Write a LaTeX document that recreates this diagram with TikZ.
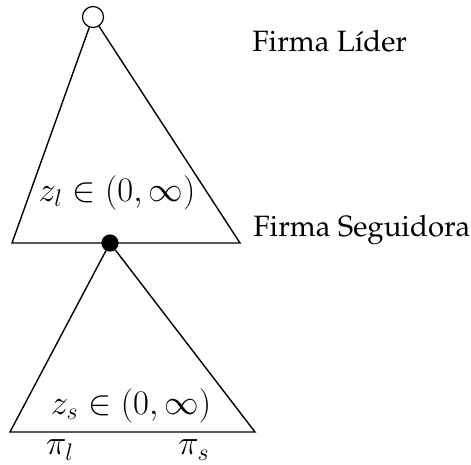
\documentclass[tikz,border=0pt]{standalone}
\usepackage[T1]{fontenc}
\usepackage{amsmath,amssymb}
\usepackage{tikz}
\usetikzlibrary{positioning,calc}
\tikzset{
  decnode/.style={circle, draw, line width=0.6pt, minimum size=10.5pt, inner sep=0pt},
  player/.style={anchor=base west, font=\fontsize{14.7}{17}\fontfamily{ppl}\selectfont, inner sep=0pt},
  mlabel/.style={font=\fontsize{16.6}{19}\selectfont, inner sep=0pt},
  branch/.style={line width=0.7pt},
}
\begin{document}
\begin{tikzpicture}[x=0.5pt, y=-0.5pt]
    \useasboundingbox (0,0) rectangle (471,465);
    % nodos de decision
    \node[decnode, fill=white] (lider) at (93,17) {};
    \node[decnode, fill=black, minimum size=8pt] (seg) at (110,243) {};
    % esquinas de los triangulos
    \coordinate (ul) at (12,243);
    \coordinate (ur) at (240,243);
    \coordinate (ll) at (10,432);
    \coordinate (lr) at (255,432);
    \draw[branch] (lider) -- (ul) -- (ur) -- (lider);
    \draw[branch] (seg) -- (ll) -- (lr) -- (seg);
    % etiquetas
    \node[player] (tl) at (252,52) {Firma L\'{\i}der};
    \node[player] (ts) at (253,236) {Firma Seguidora};
    \node[mlabel] (zl) at (117,193) {$z_l \in (0,\infty)$};
    \node[mlabel] (zs) at (131,406) {$z_s \in (0,\infty)$};
    \node[mlabel] (pl) at (60,450) {$\pi_l$};
    \node[mlabel] (ps) at (194,450) {$\pi_s$};
  \end{tikzpicture}
\end{document}
